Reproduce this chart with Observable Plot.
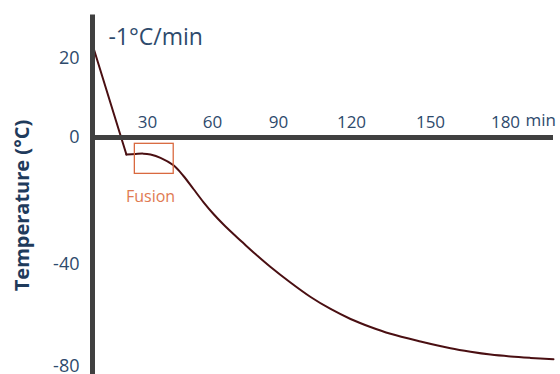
<!DOCTYPE html>
<html><head><meta charset="utf-8">
<script src="https://cdn.jsdelivr.net/npm/d3@7"></script>
<script src="https://cdn.jsdelivr.net/npm/@observablehq/plot@0.6"></script>
<style>body{margin:0;background:#fff;}</style>
</head><body><div id="chart"></div>
<script>
// Tick labels
const xTicks = [30, 60, 90, 120, 150, 180];
const yTicks = [20, 0, -40, -80];
// Cooling at -1°C/min (straight part)
const coolTime = [0, 18.5];
const coolTemp = [23.5, -5.4];
// Fusion plateau and further cooling (minutes, °C)
const curveTime = [18.5, 23.5, 27.8, 31.4, 36.0, 42.0, 46.6, 51.2, 55.8, 60.45, 65.0, 69.5, 74.1, 79.5, 86.4, 94.9, 103.2, 111.4, 119.6, 127.2, 134.8, 146.2, 158, 166, 174, 182, 190, 199.2];
const curveTemp = [-5.4, -5.2, -5.1, -5.4, -6.42, -8.8, -12.17, -16.28, -20.4, -24.19, -27.51, -30.51, -33.45, -36.84, -41.17, -47.22, -52.88, -57.56, -61.46, -64.59, -67.24, -70.24, -72.9, -74.26, -75.36, -76.1, -76.64, -77.15];
// Fusion window
const fusionWindow = [{t1: 23.1, t2: 42.1, v1: -2.0, v2: -11.5}];
// Axis extents
const xAxisEnd = 199.2;
const yAxisTop = 31;
const yAxisBottom = -85;

const cool = coolTime.map((t, i) => ({t, v: coolTemp[i]}));
const curve = curveTime.map((t, i) => ({t, v: curveTemp[i]}));

// The drawing's axes are not evenly spaced: piecewise-linear warps, applied as scale transforms
const xWarp = d3.scaleLinear().domain([0, 30, 60, 90, 120, 150, 180]).range([92, 147, 212, 278, 351, 430, 505]);
const yWarp = d3.scaleLinear().domain([-80, -40, 0, 20]).range([366, 263.5, 137, 58]);

const lineColor = "#4a0f12";
const axisColor = "#404040";
const labelColor = "#2e4a6c";

const chart = Plot.plot({
  width: 560, height: 374,
  marginTop: 36, marginBottom: 0, marginLeft: 0, marginRight: 0,
  style: {fontFamily: "'Open Sans', sans-serif", background: "white"},
  x: {type: "linear", transform: xWarp, domain: [0, 560], range: [0, 560], axis: null},
  y: {type: "linear", transform: yWarp, domain: [0, 374], range: [0, 374], axis: null},
  marks: [
    Plot.line(cool, {x: "t", y: "v", stroke: lineColor, strokeWidth: 2}),
    Plot.line(curve, {x: "t", y: "v", stroke: lineColor, strokeWidth: 2, curve: "catmull-rom"}),
    Plot.rect(fusionWindow, {x1: "t1", x2: "t2", y1: "v1", y2: "v2", fill: "none", stroke: "#d9693f", strokeWidth: 1.3}),
    Plot.ruleX([0], {y1: yAxisBottom, y2: yAxisTop, stroke: axisColor, strokeWidth: 5}),
    Plot.ruleY([0], {x1: 0, x2: xAxisEnd, stroke: axisColor, strokeWidth: 5}),
    Plot.text(yTicks, {x: 0, y: d => d, text: d => String(d), dx: -13, textAnchor: "end", fontSize: 18, fill: labelColor}),
    Plot.text(xTicks, {x: d => d, y: 0, text: d => String(d), dy: -15, fontSize: 17, fill: labelColor}),
    Plot.text(["min"], {x: 180, y: 0, dx: 20, dy: -16.5, textAnchor: "start", fontSize: 17, fill: labelColor}),
    Plot.text(["Fusion"], {x: 31.4, y: -18.7, fontSize: 16, fill: "#e07a52"}),
    Plot.text(["-1°C/min"], {x: 8.7, y: 25.4, textAnchor: "start", fontSize: 23, fill: labelColor}),
    Plot.text(["Temperature (°C)"], {frameAnchor: "left", textAnchor: "middle", rotate: -90, dx: 22, fontSize: 20, fontWeight: "bold", fill: "#1f3b5c"})
  ]
});
document.getElementById("chart").append(chart);
</script>
</body></html>
